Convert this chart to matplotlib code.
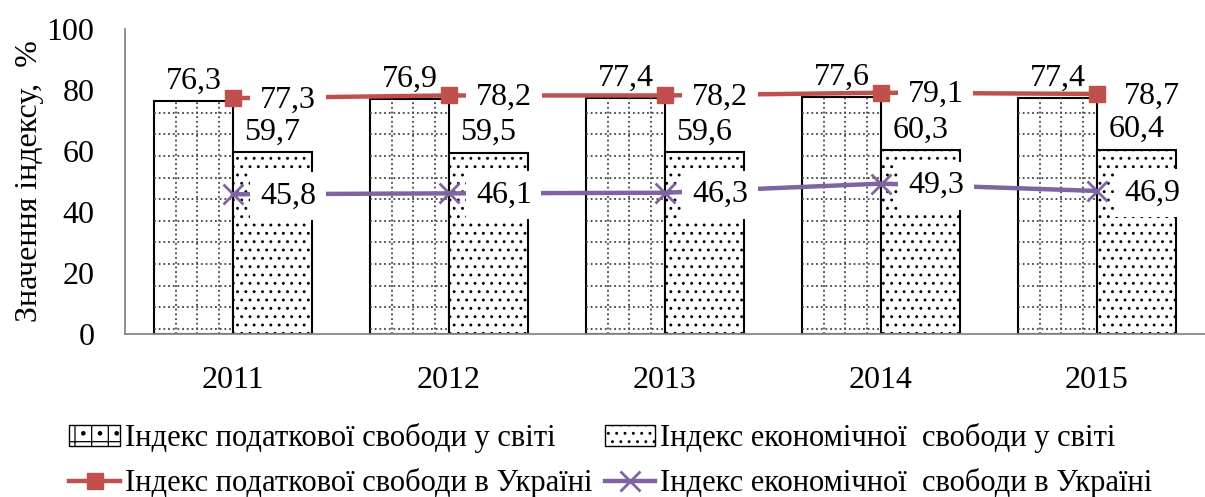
import numpy as np
import matplotlib
matplotlib.use('Agg')
import matplotlib.pyplot as plt
from matplotlib.patches import Patch
from matplotlib.lines import Line2D

plt.rcParams['font.family'] = ['Liberation Serif', 'DejaVu Serif']
plt.rcParams['hatch.linewidth'] = 0.9

# дані
years = ['2011', '2012', '2013', '2014', '2015']
tax_world = [76.3, 76.9, 77.4, 77.6, 77.4]
econ_world = [59.7, 59.5, 59.6, 60.3, 60.4]
tax_ukraine = [77.3, 78.2, 78.2, 79.1, 78.7]
econ_ukraine = [45.8, 46.1, 46.3, 49.3, 46.9]

labels = ['Індекс податкової свободи у світі',
          'Індекс економічної  свободи у світі',
          'Індекс податкової свободи в Україні',
          'Індекс економічної  свободи в Україні']

RED = '#C0504D'
PURPLE = '#8064A2'


def fmt(v):
    return f'{v:.1f}'.replace('.', ',')


fig = plt.figure(figsize=(12.05, 4.97), dpi=100)
ax = fig.add_axes([0.1037, 0.328, 0.8963, 0.6137])

x = np.arange(len(years))
w = 0.365

b1 = ax.bar(x - w / 2, tax_world, w, color='white', edgecolor='black', linewidth=1.5, zorder=2)
b2 = ax.bar(x + w / 2, econ_world, w, color='white', edgecolor='black', linewidth=1.5,
            hatch='..', zorder=2)

# пунктирна сітка всередині стовпців першого ряду
for rect in b1:
    x0, w0, h0 = rect.get_x(), rect.get_width(), rect.get_height()
    for k in range(1, 4):
        ax.plot([x0 + 0.1 * k] * 2, [0, h0], color='#444', lw=1.3, ls=(0, (1, 1.6)),
                clip_path=rect, zorder=2.5)
    yy = 1.6
    while yy < h0:
        ax.plot([x0, x0 + w0], [yy, yy], color='#444', lw=1.3, ls=(0, (1, 1.6)),
                clip_path=rect, zorder=2.5)
        yy += 7.1

for t in ax.bar_label(b1, labels=[fmt(v) for v in tax_world], padding=4, fontsize=23):
    t.set_zorder(6)
for t in ax.bar_label(b2, labels=[fmt(v) for v in econ_world], padding=4, fontsize=23):
    t.set_zorder(6)

ax.plot(x, tax_ukraine, color=RED, lw=3.2, marker='s', ms=12, zorder=4)
ax.plot(x, econ_ukraine, color=PURPLE, lw=3.2, marker='x', ms=14, mew=2, zorder=4)

for xi, v in zip(x, tax_ukraine):
    ax.annotate(fmt(v), (xi, v), xytext=(27, -2), textcoords='offset pixels',
                ha='left', va='center', fontsize=23, zorder=5,
                bbox=dict(boxstyle='square,pad=0.3', fc='white', ec='none'))
for xi, v in zip(x, econ_ukraine):
    ax.annotate(fmt(v), (xi, v), xytext=(27, -2), textcoords='offset pixels',
                ha='left', va='center', fontsize=23, zorder=5,
                bbox=dict(boxstyle='square,pad=0.3', fc='white', ec='none'))

ax.set_xlim(-0.5, 4.5)
ax.set_ylim(0, 100)
ax.set_yticks(np.arange(0, 101, 20))
ax.set_xticks(x)
ax.set_xticklabels(years)
ax.tick_params(axis='both', length=0, labelsize=23)
ax.tick_params(axis='y', pad=22)
ax.tick_params(axis='x', pad=23)
for s in ['top', 'right']:
    ax.spines[s].set_visible(False)
for s in ['left', 'bottom']:
    ax.spines[s].set_color('#888888')
    ax.spines[s].set_linewidth(1.3)
ax.set_ylabel('Значення індексу,  %', fontsize=23, labelpad=2)

handles = [Patch(facecolor='white', edgecolor='black', hatch='+.'),
           Line2D([], [], color=RED, lw=3.2, marker='s', ms=12),
           Patch(facecolor='white', edgecolor='black', hatch='..'),
           Line2D([], [], color=PURPLE, lw=3.2, marker='x', ms=14, mew=2)]
leg_labels = [labels[0], labels[2], labels[1], labels[3]]
fig.legend(handles, leg_labels, loc='center', bbox_to_anchor=(0.507, 0.073), ncol=2,
           frameon=False, fontsize=22, handlelength=1.65, handletextpad=0.17,
           columnspacing=0.4, labelspacing=0.5)

fig.savefig('out.png', dpi=100)
